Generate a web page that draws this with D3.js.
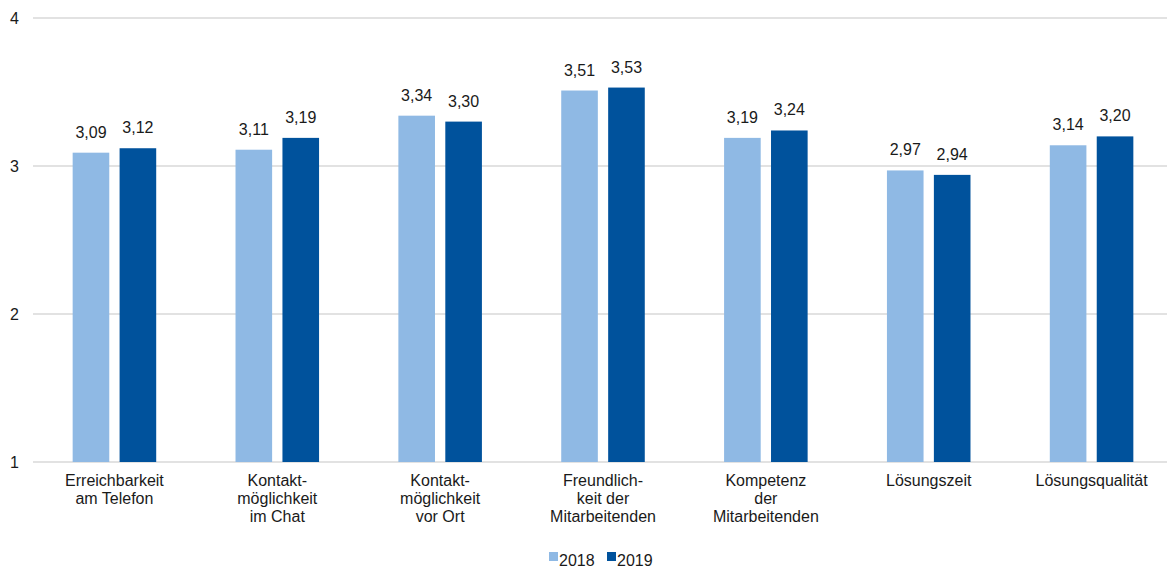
<!DOCTYPE html>
<html>
<head>
<meta charset="utf-8">
<script src="https://cdn.jsdelivr.net/npm/d3@7"></script>
<style>
  body { margin: 0; background: #fff; }
  text { font-family: "Liberation Sans", Arial, sans-serif; }
</style>
</head>
<body>
<svg id="chart"></svg>
<script>
// Chart size
const width = 1167;
const height = 569;

const COLOR_2018 = "#8FB9E4";
const COLOR_2019 = "#00529C";
const GRID_COLOR = "#d9d9d9";

// Data
const categories = [
  ["Erreichbarkeit", "am Telefon"],
  ["Kontakt-", "möglichkeit", "im Chat"],
  ["Kontakt-", "möglichkeit", "vor Ort"],
  ["Freundlich-", "keit der", "Mitarbeitenden"],
  ["Kompetenz", "der", "Mitarbeitenden"],
  ["Lösungszeit"],
  ["Lösungsqualität"]
];
const years = ["2018", "2019"];
const values2018 = [3.09, 3.11, 3.34, 3.51, 3.19, 2.97, 3.14];
const values2019 = [3.12, 3.19, 3.30, 3.53, 3.24, 2.94, 3.20];
const yTicks = [1, 2, 3, 4];

const colors = { "2018": COLOR_2018, "2019": COLOR_2019 };
const rows = categories.map((c, i) => ({
  idx: i,
  label: c,
  values: [
    { year: "2018", value: values2018[i] },
    { year: "2019", value: values2019[i] }
  ]
}));

const svg = d3.select("#chart")
  .attr("width", width)
  .attr("height", height);

// Scales
const x0 = d3.scaleBand()
  .domain(d3.range(categories.length))
  .range([33, 1173])
  .paddingInner(0.487)
  .paddingOuter(0.2435);

const x1 = d3.scaleBand()
  .domain(years)
  .range([0, x0.bandwidth()])
  .paddingInner(0.22);

const y = d3.scaleLinear()
  .domain([1, 4])
  .range([462, 18]);

// Gridlines
svg.append("g")
  .selectAll("line")
  .data(yTicks)
  .enter()
  .append("line")
  .attr("x1", 33)
  .attr("x2", width)
  .attr("y1", d => y(d))
  .attr("y2", d => y(d))
  .attr("stroke", GRID_COLOR)
  .attr("stroke-width", 1.5);

// Y axis labels
svg.append("g")
  .selectAll("text")
  .data(yTicks)
  .enter()
  .append("text")
  .attr("x", 19)
  .attr("y", d => y(d) + 5.5)
  .attr("text-anchor", "end")
  .attr("font-size", 16)
  .attr("fill", "#1a1a1a")
  .text(d => d);

// Bars
const groups = svg.append("g")
  .selectAll("g")
  .data(rows)
  .enter()
  .append("g")
  .attr("transform", d => `translate(${x0(d.idx)},0)`);

groups.selectAll("rect")
  .data(d => d.values)
  .enter()
  .append("rect")
  .attr("x", d => x1(d.year))
  .attr("y", d => y(d.value))
  .attr("width", x1.bandwidth())
  .attr("height", d => y(1) - y(d.value))
  .attr("fill", d => colors[d.year]);

// Value labels
const fmt = d3.format(".2f");
groups.selectAll("text.val")
  .data(d => d.values)
  .enter()
  .append("text")
  .attr("class", "val")
  .attr("x", d => x1(d.year) + x1.bandwidth() / 2)
  .attr("y", d => y(d.value) - 15)
  .attr("text-anchor", "middle")
  .attr("font-size", 16)
  .attr("fill", "#1a1a1a")
  .text(d => fmt(d.value).replace(".", ","));

// Category labels
groups.append("text")
  .attr("text-anchor", "middle")
  .attr("font-size", 16)
  .attr("fill", "#1a1a1a")
  .selectAll("tspan")
  .data(d => d.label)
  .enter()
  .append("tspan")
  .attr("x", x0.bandwidth() / 2)
  .attr("y", (d, i) => 486 + i * 18)
  .text(d => d);

// Legend
const legendX = [549, 607];
const legend = svg.append("g")
  .selectAll("g")
  .data(years)
  .enter()
  .append("g")
  .attr("transform", (d, i) => `translate(${legendX[i]},0)`);

legend.append("rect")
  .attr("x", 0)
  .attr("y", 552)
  .attr("width", 9)
  .attr("height", 9)
  .attr("fill", d => colors[d]);

legend.append("text")
  .attr("x", 10)
  .attr("y", 566)
  .attr("font-size", 16)
  .attr("fill", "#1a1a1a")
  .text(d => d);
</script>
</body>
</html>
